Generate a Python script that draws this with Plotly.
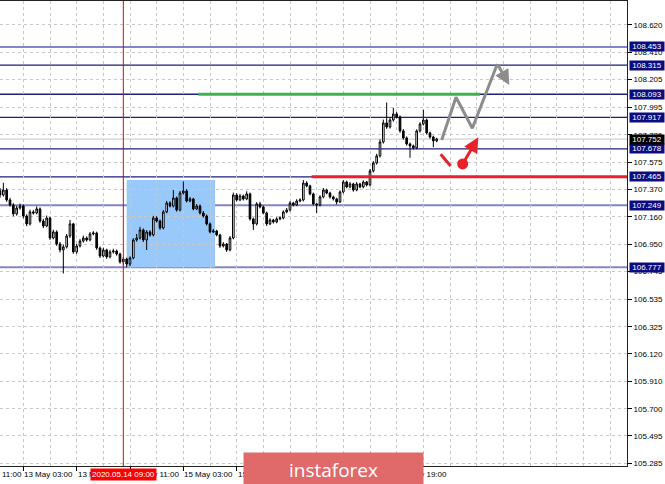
import plotly.graph_objects as go

# ---------------- data ----------------
opens = [107.360,107.327,107.365,107.289,107.251,107.183,107.228,107.243,107.167,107.107,
         107.198,107.190,107.221,107.129,107.091,107.152,107.000,107.046,106.954,106.909,
         106.932,107.015,107.107,106.894,106.939,106.977,107.000,106.985,107.031,107.038,
         106.924,106.863,106.909,106.856,106.894,106.901,106.878,106.818,106.840,106.802,
         106.848,106.985,107.000,107.061,106.985,107.046,107.023,107.152,107.129,107.076,
         107.198,107.266,107.243,107.304,107.213,107.342,107.357,107.281,107.297,107.221,
         107.243,107.190,107.167,107.107,107.046,107.053,107.023,106.939,106.954,106.909,
         107.000,107.327,107.289,107.320,107.297,107.335,107.145,107.107,107.259,107.236,
         107.190,107.107,107.137,107.122,107.145,107.152,107.198,107.213,107.266,107.251,
         107.281,107.289,107.418,107.396,107.335,107.259,107.251,107.312,107.365,107.342,
         107.312,107.297,107.274,107.350,107.426,107.388,107.411,107.365,107.411,107.388,
         107.426,107.403,107.510,107.570,107.624,107.730,107.875,107.844,107.897,107.943,
         107.920,107.814,107.761,107.715,107.700,107.685,107.814,107.867,107.897,107.799,
         107.768,107.738]
highs = [107.380,107.420,107.380,107.305,107.265,107.245,107.262,107.255,107.180,107.215,
         107.212,107.240,107.232,107.145,107.170,107.160,107.062,107.058,106.970,106.950,
         107.030,107.137,107.115,106.955,106.992,107.018,107.012,107.046,107.052,107.048,
         106.935,106.925,106.918,106.910,106.918,106.912,106.888,106.856,106.850,106.860,
         106.998,107.030,107.085,107.072,107.060,107.058,107.168,107.165,107.140,107.212,
         107.282,107.280,107.365,107.315,107.358,107.430,107.372,107.312,107.305,107.258,
         107.255,107.205,107.178,107.118,107.068,107.062,107.032,106.968,106.962,107.015,
         107.345,107.340,107.335,107.330,107.355,107.345,107.155,107.272,107.275,107.248,
         107.200,107.150,107.145,107.158,107.165,107.210,107.228,107.280,107.275,107.295,
         107.302,107.441,107.432,107.405,107.345,107.268,107.325,107.380,107.375,107.352,
         107.322,107.306,107.362,107.440,107.436,107.425,107.420,107.425,107.420,107.438,
         107.434,107.525,107.585,107.640,107.750,107.900,108.030,107.915,107.990,107.958,
         107.932,107.828,107.772,107.725,107.710,107.826,107.880,107.975,107.908,107.808,
         107.778,107.762]
lows = [107.305,107.315,107.275,107.238,107.165,107.170,107.215,107.150,107.090,107.095,
        107.178,107.180,107.115,107.075,107.082,106.985,106.990,106.940,106.890,106.730,
        106.920,107.000,106.880,106.880,106.928,106.965,106.972,106.975,107.020,106.910,
        106.848,106.852,106.842,106.845,106.882,106.865,106.805,106.790,106.777,106.785,
        106.838,106.972,106.988,106.970,106.909,107.010,107.012,107.118,107.062,107.065,
        107.188,107.232,107.232,107.200,107.202,107.330,107.270,107.272,107.210,107.212,
        107.178,107.155,107.095,107.035,107.038,107.012,106.925,106.928,106.894,106.898,
        106.990,107.278,107.280,107.285,107.288,107.132,107.061,107.095,107.225,107.180,
        107.092,107.098,107.110,107.112,107.135,107.142,107.188,107.202,107.240,107.242,
        107.272,107.278,107.385,107.325,107.248,107.190,107.240,107.302,107.332,107.300,
        107.285,107.255,107.265,107.338,107.378,107.378,107.352,107.355,107.378,107.378,
        107.392,107.392,107.498,107.558,107.612,107.718,107.830,107.832,107.885,107.908,
        107.800,107.748,107.702,107.610,107.672,107.675,107.802,107.855,107.788,107.755,
        107.690,107.728]
closes = [107.327,107.365,107.289,107.251,107.183,107.228,107.243,107.167,107.107,107.198,
          107.190,107.221,107.129,107.091,107.152,107.000,107.046,106.954,106.909,106.932,
          107.015,107.107,106.894,106.939,106.977,107.000,106.985,107.031,107.038,106.924,
          106.863,106.909,106.856,106.894,106.901,106.878,106.818,106.840,106.802,106.848,
          106.985,107.000,107.061,106.985,107.046,107.023,107.152,107.129,107.076,107.198,
          107.266,107.243,107.304,107.213,107.342,107.357,107.281,107.297,107.221,107.243,
          107.190,107.167,107.107,107.046,107.053,107.023,106.939,106.954,106.909,107.000,
          107.327,107.289,107.320,107.297,107.335,107.145,107.107,107.259,107.236,107.190,
          107.107,107.137,107.122,107.145,107.152,107.198,107.213,107.266,107.251,107.281,
          107.289,107.418,107.396,107.335,107.259,107.251,107.312,107.365,107.342,107.312,
          107.297,107.274,107.350,107.426,107.388,107.411,107.365,107.411,107.388,107.426,
          107.403,107.510,107.570,107.624,107.730,107.875,107.844,107.897,107.943,107.920,
          107.814,107.761,107.715,107.700,107.685,107.814,107.867,107.897,107.799,107.768,
          107.738,107.752]
bar_index = list(range(len(closes)))

time_tick_index = [7, 23, 39, 55, 71, 87, 103, 119]
time_tick_labels = ["13 May 03:00", "13 May 19:00", "14 May 11:00", "15 May 03:00",
                    "15 May 19:00", "18 May 11:00", "19 May 03:00", "19 May 19:00"]
price_ticks = [108.620, 108.410, 108.205, 107.995, 107.785, 107.575, 107.370, 107.160,
               106.950, 106.745, 106.535, 106.325, 106.120, 105.910, 105.700, 105.495, 105.285]
price_tick_labels = ["108.620", "108.410", "108.205", "107.995", "107.785", "107.575",
                     "107.370", "107.160", "106.950", "106.745", "106.535", "106.325",
                     "106.120", "105.910", "105.700", "105.495", "105.285"]

levels_dark = [108.315, 108.093, 107.917, 107.678, 107.465]
levels_light = [108.453, 107.249, 106.777]
level_labels = [108.453, 108.315, 108.093, 107.917, 107.678, 107.465, 107.249, 106.777]
current_price = 107.752

marker_bar = 37
marker_label = "2020.05.14 09:00"

zone_x = [38.0, 64.5]
zone_y = [106.777, 107.441]

green_x = [59.5, 144.0]
green_y = 108.093
red_x_start = 93.5
red_y = 107.465

gray_path_x = [132.5, 136.8, 141.7, 149.2]
gray_path_y = [107.745, 108.070, 107.834, 108.323]
gray_arrow_tip = (152.8, 108.164)

red_dash_x = [132.2, 135.2]
red_dash_y = [107.637, 107.548]
red_dot = (138.8, 107.563)
red_arrow_tip = (143.5, 107.766)

# ---------------- figure ----------------
FONT = "Liberation Sans"
NAVY = "#1e1e7c"
LIGHT = "#8484c8"
RED = "#e8212a"
X_MAX = 188.1

fig = go.Figure()

fig.add_trace(go.Candlestick(
    x=bar_index, open=opens, high=highs, low=lows, close=closes,
    increasing=dict(line=dict(color="black", width=1), fillcolor="white"),
    decreasing=dict(line=dict(color="black", width=1), fillcolor="black"),
    whiskerwidth=0, showlegend=False, hoverinfo="skip"))

fig.add_trace(go.Scatter(x=gray_path_x, y=gray_path_y, mode="lines",
                         line=dict(color="#8c8c8c", width=3), showlegend=False, hoverinfo="skip"))
fig.add_trace(go.Scatter(x=red_dash_x, y=red_dash_y, mode="lines",
                         line=dict(color=RED, width=3), showlegend=False, hoverinfo="skip"))
fig.add_trace(go.Scatter(x=[red_dot[0]], y=[red_dot[1]], mode="markers",
                         marker=dict(color=RED, size=11), showlegend=False, hoverinfo="skip"))

shapes = []
shapes.append(dict(type="rect", xref="x", yref="y", x0=zone_x[0], x1=zone_x[1],
                   y0=zone_y[0], y1=zone_y[1], fillcolor="#99c9fb", line=dict(width=0),
                   layer="below"))
for lv in levels_dark:
    shapes.append(dict(type="line", xref="paper", yref="y", x0=0, x1=1, y0=lv, y1=lv,
                       line=dict(color=NAVY, width=1.3), layer="below"))
for lv in levels_light:
    shapes.append(dict(type="line", xref="paper", yref="y", x0=0, x1=1, y0=lv, y1=lv,
                       line=dict(color=LIGHT, width=2), layer="below"))
shapes.append(dict(type="line", xref="paper", yref="y", x0=0, x1=1, y0=current_price,
                   y1=current_price, line=dict(color="#c4c4c4", width=1), layer="below"))
shapes.append(dict(type="line", xref="x", yref="y", x0=green_x[0], x1=green_x[1],
                   y0=green_y, y1=green_y, line=dict(color="#3cb44b", width=3)))
shapes.append(dict(type="line", xref="x", yref="y", x0=red_x_start, x1=X_MAX,
                   y0=red_y, y1=red_y, line=dict(color=RED, width=3)))
shapes.append(dict(type="line", xref="x", yref="paper", x0=marker_bar, x1=marker_bar,
                   y0=0, y1=1, line=dict(color="#f00000", width=1)))

annotations = []
for tv, tt in zip(time_tick_index, time_tick_labels):
    annotations.append(dict(xref="x", yref="paper", x=tv, y=0, xanchor="left", yanchor="top",
                            xshift=-1, yshift=-2, text=tt, showarrow=False,
                            font=dict(family=FONT, size=8, color="black")))
annotations.append(dict(xref="paper", yref="paper", x=0, y=0, xanchor="left", yanchor="top",
                        yshift=-2, text="11:00", showarrow=False,
                        font=dict(family=FONT, size=8, color="black")))
for lv in level_labels:
    annotations.append(dict(xref="paper", yref="y", x=1, y=lv, xanchor="left", yanchor="middle",
                            xshift=2, text=f"{lv:.3f}", showarrow=False, bgcolor="#0c0c80",
                            font=dict(family=FONT, size=8, color="white"), borderpad=0,
                            width=34, height=9))
annotations.append(dict(xref="paper", yref="y", x=1, y=current_price, xanchor="left",
                        yanchor="middle", xshift=2, text=f"{current_price:.3f}", showarrow=False,
                        bgcolor="black", font=dict(family=FONT, size=8, color="white"),
                        borderpad=0, width=34, height=9))
annotations.append(dict(xref="x", yref="paper", x=marker_bar, y=0, yanchor="top", yshift=-2,
                        text=marker_label, showarrow=False, bgcolor="#ff0000",
                        font=dict(family=FONT, size=8, color="white"), borderpad=1))
annotations.append(dict(xref="paper", yref="paper", x=333.5 / 627, y=-3.5 / 465,
                        xanchor="center", yanchor="middle", text="instaforex", showarrow=False,
                        bgcolor="#e06a6a", width=177, height=31,
                        font=dict(family="Open Sans", size=19, color="white")))
annotations.append(dict(xref="x", yref="y", axref="x", ayref="y",
                        x=gray_arrow_tip[0], y=gray_arrow_tip[1],
                        ax=gray_path_x[-1], ay=gray_path_y[-1], text="", showarrow=True,
                        arrowhead=2, arrowsize=1, arrowwidth=3, arrowcolor="#8c8c8c"))
annotations.append(dict(xref="x", yref="y", axref="x", ayref="y",
                        x=red_arrow_tip[0], y=red_arrow_tip[1],
                        ax=red_dot[0], ay=red_dot[1], text="", showarrow=True,
                        arrowhead=2, arrowsize=1, arrowwidth=3, arrowcolor=RED))

fig.update_layout(
    width=665, height=484,
    margin=dict(l=0, r=38, t=1, b=18, autoexpand=False),
    paper_bgcolor="white", plot_bgcolor="white",
    shapes=shapes, annotations=annotations, showlegend=False,
    font=dict(family=FONT, size=8, color="black"),
    xaxis=dict(range=[0, X_MAX], rangeslider=dict(visible=False), automargin=False,
               tickmode="array", tickvals=time_tick_index, ticktext=time_tick_labels,
               showticklabels=False, ticks="outside", ticklen=4,
               tickcolor="black", showgrid=True, gridcolor="#c8c8c8", griddash="3px,3px",
               gridwidth=1,
               minor=dict(tickvals=[v for v in range(-1, 189, 8)], showgrid=True,
                          gridcolor="#c8c8c8", griddash="3px,3px", ticks=""),
               showline=True, linecolor="#222222", linewidth=1, mirror=True,
               zeroline=False),
    yaxis=dict(range=[105.266, 108.802], side="right", tickmode="array", automargin=False,
               tickvals=price_ticks, ticktext=price_tick_labels, ticks="outside", ticklen=4,
               tickcolor="black", showgrid=True, gridcolor="#c8c8c8", griddash="3px,3px",
               showline=True, linecolor="#222222", linewidth=1, mirror=True, zeroline=False,
               tickfont=dict(family=FONT, size=8, color="black")),
)

fig.write_html("out.html", config={"displayModeBar": False},
               post_script="document.body.style.margin='0px';document.body.style.overflow='hidden';")
